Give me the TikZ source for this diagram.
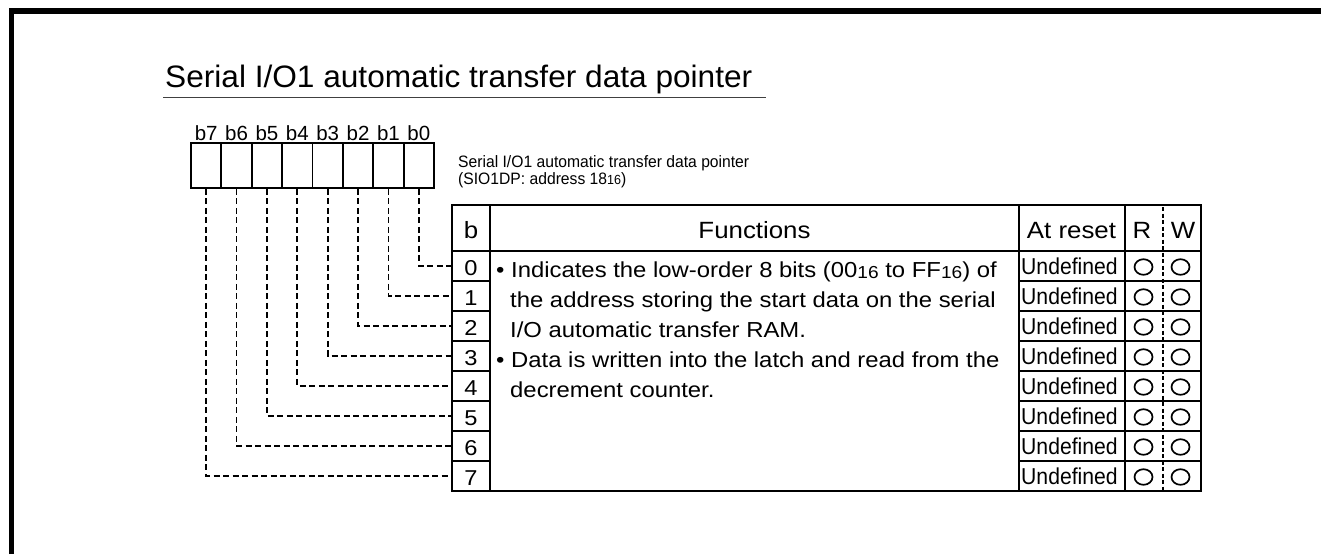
\documentclass[tikz,border=0pt]{standalone}
\usepackage{fontspec}
\setmainfont{Liberation Sans}
\newfontfamily\fTitle[FakeStretch=1.02]{Liberation Sans}
\newfontfamily\fTab[FakeStretch=1.1]{Liberation Sans}
\newfontfamily\fBody[FakeStretch=1.1]{Liberation Sans}
\newfontfamily\fCap[FakeStretch=0.95]{Liberation Sans}
\newfontfamily\fUnd[FakeStretch=0.92]{Liberation Sans}
\newcommand\sxt{\raisebox{-0.8pt}{\scalebox{0.8}{16}}}
\begin{document}
\begin{tikzpicture}[x=1pt,y=-1pt,
  frame/.style={line width=5.5pt,line join=miter},
  bitbox/.style={draw,line width=1.9pt,minimum width=30.4pt,minimum height=45pt,inner sep=0pt},
  bitlabel/.style={anchor=base,inner sep=0pt,font=\fontsize{20.5}{20.5}\selectfont},
  rowcell/.style={minimum width=38pt,minimum height=30pt,inner sep=0pt,text height=19pt,text depth=0pt,font=\fTab\fontsize{21.5}{21.5}\selectfont},
  tline/.style={line width=1.9pt},
  rwline/.style={line width=1.3pt,dash pattern=on 4pt off 2.5pt},
  dashline/.style={line width=1.7pt,dash pattern=on 6pt off 3.5pt},
  head/.style={anchor=base,inner sep=0pt,font=\fTab\fontsize{23.5}{23.5}\selectfont},
  body/.style={anchor=base west,inner sep=0pt,font=\fBody\fontsize{21.7}{21.7}\selectfont},
  undef/.style={anchor=base west,inner sep=0pt,font=\fUnd\fontsize{23}{23}\selectfont},
  caption/.style={anchor=base west,inner sep=0pt,font=\fCap\fontsize{16.5}{16.5}\selectfont},
  mark circle/.style={line width=1.7pt}]
\useasboundingbox (0,0) rectangle (1321,554);
% frame
\draw[frame] (11.5,554) -- (11.5,11) -- (1321,11);
% title
\node[anchor=base west,inner sep=0pt,font=\fTitle\fontsize{31}{31}\selectfont] (title) at (165,87) {Serial I/O1 automatic transfer data pointer};
\draw[line width=1.5pt,black!75] (163,97.5) -- (766,97.5);
% register bits
\foreach \i in {0,...,7} {
  \pgfmathsetmacro\cx{191+30.375*(7-\i)+15.19}
  \node[bitbox] (b\i) at (\cx,165.5) {};
  \node[bitlabel] (lb\i) at (\cx,140) {b\i};
}
% caption
\node[caption] (cap1) at (458,167) {Serial I/O1 automatic transfer data pointer};
\node[caption] (cap2) at (458,184) {(SIO1DP: address 18\sxt)};
% table frame
\draw[tline] (452,205) rectangle (1201,491);
\draw[tline] (452,251) -- (1201,251);
\draw[tline] (490,205) -- (490,491);
\draw[tline] (1019,205) -- (1019,491);
\draw[tline] (1125,205) -- (1125,491);
\draw[rwline] (1163,207) -- (1163,491);
\foreach \k in {1,...,7} {
  \draw[tline] (452,251+30*\k) -- (490,251+30*\k);
  \draw[tline] (1019,251+30*\k) -- (1201,251+30*\k);
}
% headers
\node[head] (hb) at (471,238.5) {b};
\node[head] (hf) at (754.5,238.5) {Functions};
\node[head] (ha) at (1071.5,238.5) {At reset};
\node[head] (hr) at (1142,238.5) {R};
\node[head] (hw) at (1183,238.5) {W};
% rows
\foreach \i in {0,...,7} {
  \node[rowcell] (n\i) at (471,266+30*\i) {\i};
  \node[undef] (u\i) at (1021,274.5+30*\i) {Undefined};
  \draw[mark circle] (1143.5,267+30*\i) ellipse [x radius=9pt,y radius=7.8pt];
  \draw[mark circle] (1180.5,267+30*\i) ellipse [x radius=9pt,y radius=7.8pt];
}
% function text
\node[body] (f1) at (496,277.5) {\textbullet\ Indicates the low-order 8 bits (00\sxt\ to FF\sxt) of};
\node[body] (f2) at (510,307.5) {the address storing the start data on the serial};
\node[body] (f3) at (510,337.5) {I/O automatic transfer RAM.};
\node[body] (f4) at (496,367.5) {\textbullet\ Data is written into the latch and read from the};
\node[body] (f5) at (510,397.5) {decrement counter.};
% connectors
\foreach \i in {0,...,7} {
  \draw[dashline] (b\i.south) |- (n\i.west);
}
\end{tikzpicture}
\end{document}
